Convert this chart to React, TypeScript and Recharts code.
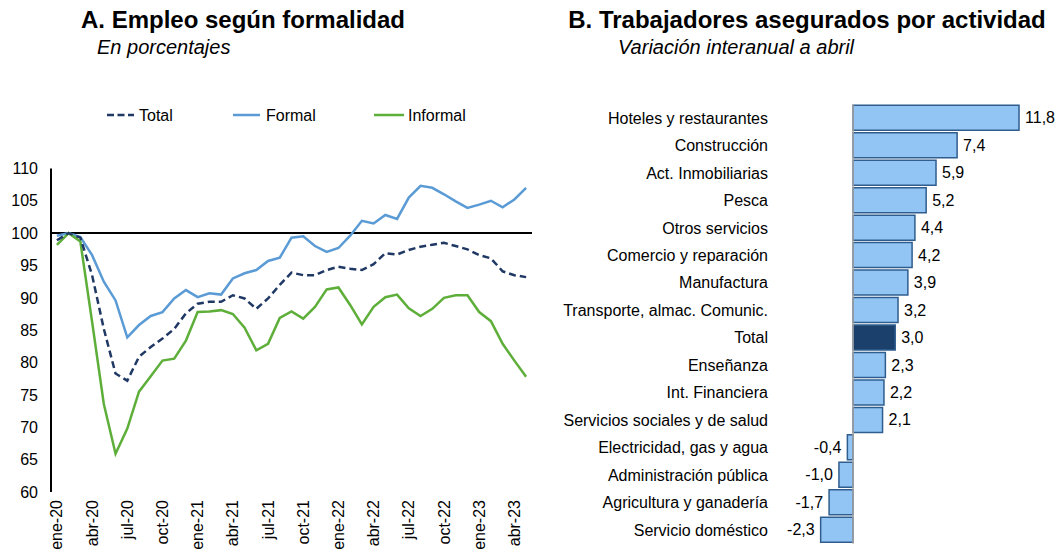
import React from 'react';
import { LineChart, Line, XAxis, YAxis, ReferenceLine, BarChart, Bar, Cell, LabelList } from 'recharts';

const months: string[] = [
  'ene-20','feb-20','mar-20','abr-20','may-20','jun-20','jul-20','ago-20','sep-20','oct-20','nov-20','dic-20',
  'ene-21','feb-21','mar-21','abr-21','may-21','jun-21','jul-21','ago-21','sep-21','oct-21','nov-21','dic-21',
  'ene-22','feb-22','mar-22','abr-22','may-22','jun-22','jul-22','ago-22','sep-22','oct-22','nov-22','dic-22',
  'ene-23','feb-23','mar-23','abr-23','may-23'
];
const totalSeries: number[] = [98.9,100,99.3,93.5,85.2,78.3,77.2,80.9,82.4,83.7,85.2,87.6,89.1,89.4,89.4,90.4,89.9,88.3,89.9,92.0,93.9,93.5,93.5,94.3,94.8,94.5,94.3,95.2,96.9,96.7,97.4,97.9,98.2,98.5,98.0,97.5,96.6,96.1,94.1,93.5,93.2];
const formalSeries: number[] = [99.6,100,99.4,96.6,92.5,89.6,83.9,85.8,87.2,87.8,89.9,91.2,90.1,90.7,90.5,93.0,93.8,94.3,95.7,96.2,99.3,99.5,98.0,97.1,97.7,99.6,101.9,101.5,102.8,102.2,105.5,107.3,107.0,106.0,104.9,103.9,104.4,105.0,104.0,105.2,107.0];
const informalSeries: number[] = [98.2,100,98.7,86.3,73.6,65.9,69.8,75.5,77.9,80.3,80.6,83.4,87.8,87.9,88.1,87.5,85.4,81.9,82.9,86.9,87.9,86.8,88.6,91.3,91.6,88.9,85.9,88.6,90.1,90.5,88.4,87.2,88.3,90.0,90.4,90.4,87.8,86.4,82.9,80.3,77.8];
const yTicks: number[] = [60, 65, 70, 75, 80, 85, 90, 95, 100, 105, 110];

const sectors: string[] = [
  'Hoteles y restaurantes','Construcción','Act. Inmobiliarias','Pesca','Otros servicios','Comercio y reparación',
  'Manufactura','Transporte, almac. Comunic.','Total','Enseñanza','Int. Financiera','Servicios sociales y de salud',
  'Electricidad, gas y agua','Administración pública','Agricultura y ganadería','Servicio doméstico'
];
const sectorValues: number[] = [11.8, 7.4, 5.9, 5.2, 4.4, 4.2, 3.9, 3.2, 3.0, 2.3, 2.2, 2.1, -0.4, -1.0, -1.7, -2.3];

const lineData = months.map((m, i) => ({ m, total: totalSeries[i], formal: formalSeries[i], informal: informalSeries[i] }));
const barData = sectors.map((name, i) => ({ name, value: sectorValues[i] }));

const FONT = '"Liberation Sans", Arial, sans-serif';
const C_TOTAL = '#1F3864';
const C_FORMAL = '#5B9BD5';
const C_INFORMAL = '#5EAE3A';
const C_BAR = '#92C5F4';
const C_BAR_STROKE = '#2F5D8E';
const C_BAR_TOTAL = '#1A406B';

const XTick = (props: any) => {
  const { x, y, payload } = props;
  return (
    <text x={x} y={y} transform={`rotate(-90, ${x}, ${y})`} textAnchor="end" dy="0.35em" fontSize={16} fill="#000">
      {payload.value}
    </text>
  );
};

const fmt = (v: number) => v.toFixed(1).replace('.', ',');

const BarLabel = (props: any) => {
  const { x, y, width, height, value } = props;
  const v = Number(value);
  const end = Number(x) + Number(width);
  const cy = Number(y) + Number(height) / 2;
  if (v >= 0) {
    return <text x={end + 6} y={cy} dy="0.35em" textAnchor="start" fontSize={16} fill="#000">{fmt(v)}</text>;
  }
  const left = Math.min(Number(x), end);
  return <text x={left - 6} y={cy} dy="0.35em" textAnchor="end" fontSize={16} fill="#000">{fmt(v)}</text>;
};

export default function App() {
  return (
    <div style={{ position: 'absolute', left: 0, top: 0, width: 1058, height: 550, fontFamily: FONT, background: '#fff' }}>
      <svg width={1058} height={550} style={{ position: 'absolute', left: 0, top: 0 }}>
        <text x={243} y={28} textAnchor="middle" fontSize={24} fontWeight="bold" fill="#000">A. Empleo según formalidad</text>
        <text x={97} y={54} fontSize={20} fontStyle="italic" fill="#000">En porcentajes</text>
        <text x={807} y={28} textAnchor="middle" fontSize={24} fontWeight="bold" fill="#000">B. Trabajadores asegurados por actividad</text>
        <text x={618} y={54} fontSize={20} fontStyle="italic" fill="#000">Variación interanual a abril</text>
        <line x1={107} x2={134} y1={115} y2={115} stroke={C_TOTAL} strokeWidth={2.5} strokeDasharray="7 3.5" />
        <text x={139} y={115} dy="0.35em" fontSize={16} fill="#000">Total</text>
        <line x1={233} x2={260} y1={115} y2={115} stroke={C_FORMAL} strokeWidth={2.5} />
        <text x={266} y={115} dy="0.35em" fontSize={16} fill="#000">Formal</text>
        <line x1={374} x2={404} y1={115} y2={115} stroke={C_INFORMAL} strokeWidth={2.5} />
        <text x={408} y={115} dy="0.35em" fontSize={16} fill="#000">Informal</text>
      </svg>

      <div style={{ position: 'absolute', left: 0, top: 0 }}>
        <LineChart width={545} height={550} data={lineData} margin={{ top: 168.4, right: 13, bottom: 0, left: 0 }}>
          <XAxis
            dataKey="m"
            interval={2}
            tickLine={false}
            axisLine={false}
            tickSize={0}
            tickMargin={8}
            height={58}
            padding={{ left: 5.9, right: 5.9 }}
            tick={<XTick />}
          />
          <YAxis
            type="number"
            domain={[60, 110]}
            ticks={yTicks}
            width={51}
            tickLine={false}
            tickSize={0}
            tickMargin={13}
            axisLine={{ stroke: '#000', strokeWidth: 2 }}
            tick={{ fontSize: 16, fill: '#000' }}
            interval={0}
          />
          <ReferenceLine y={100} stroke="#000" strokeWidth={2} />
          <Line type="linear" dataKey="formal" stroke={C_FORMAL} strokeWidth={2.5} dot={false} isAnimationActive={false} />
          <Line type="linear" dataKey="informal" stroke={C_INFORMAL} strokeWidth={2.5} dot={false} isAnimationActive={false} />
          <Line type="linear" dataKey="total" stroke={C_TOTAL} strokeWidth={2.5} strokeDasharray="7 4" dot={false} isAnimationActive={false} />
        </LineChart>
      </div>

      <div style={{ position: 'absolute', left: 545, top: 0 }}>
        <BarChart width={513} height={550} data={barData} layout="vertical" margin={{ top: 104.3, right: 22.1, bottom: 6.3, left: 0 }}>
          <XAxis type="number" domain={[-3, 13]} hide />
          <YAxis
            type="category"
            dataKey="name"
            width={265.8}
            tickLine={false}
            axisLine={false}
            tickSize={0}
            tickMargin={42.8}
            interval={0}
            tick={{ fontSize: 16, fill: '#000' }}
          />
          <ReferenceLine x={0} stroke="#A6A6A6" strokeWidth={1.5} />
          <Bar dataKey="value" barSize={25} stroke={C_BAR_STROKE} strokeWidth={1.5} isAnimationActive={false}>
            {barData.map((d, i) => (
              <Cell key={i} fill={d.name === 'Total' ? C_BAR_TOTAL : C_BAR} />
            ))}
            <LabelList dataKey="value" content={<BarLabel />} />
          </Bar>
        </BarChart>
      </div>
    </div>
  );
}
